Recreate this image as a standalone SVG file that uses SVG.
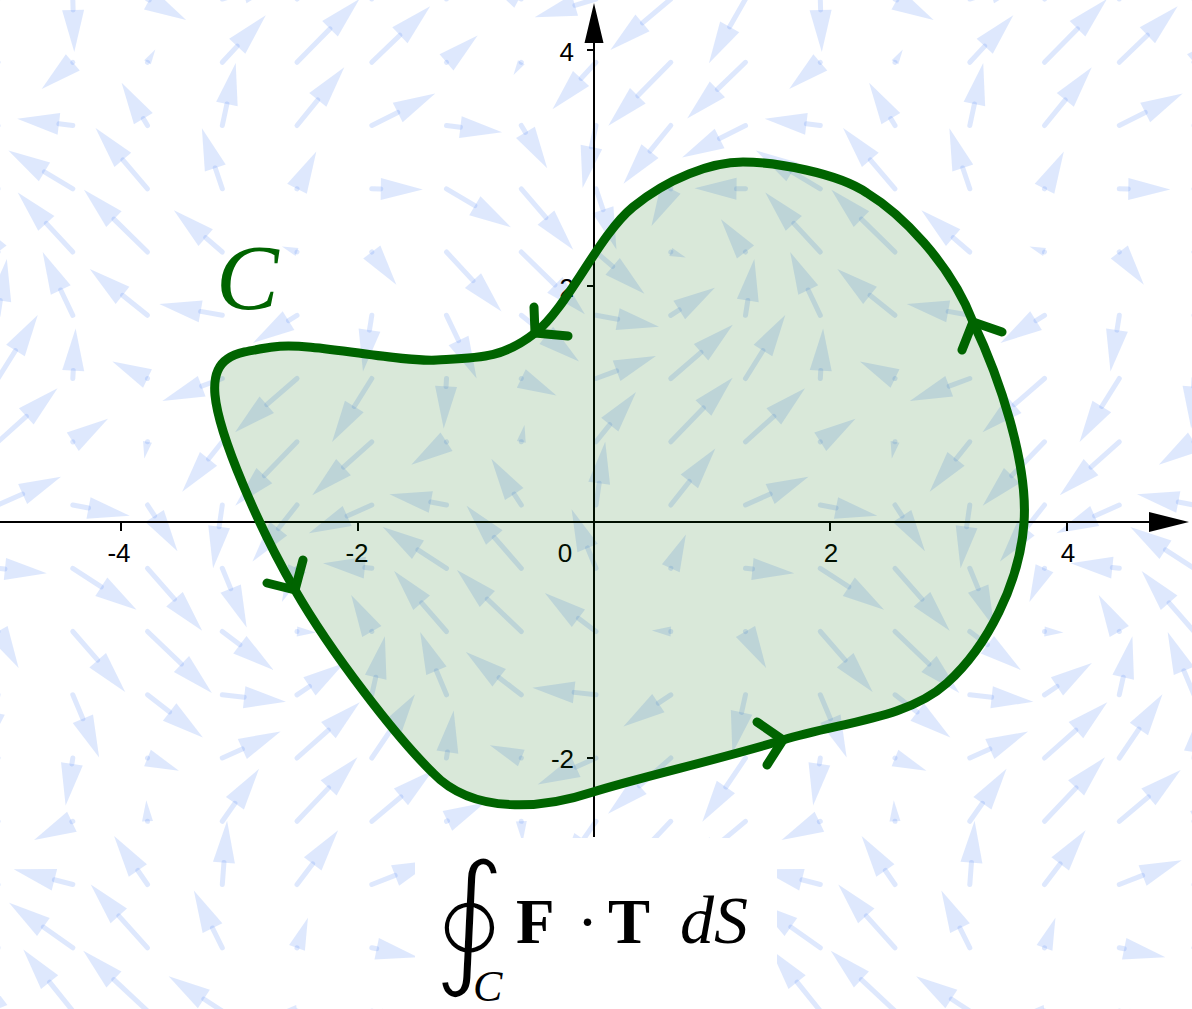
<svg xmlns="http://www.w3.org/2000/svg" width="1192" height="1009" viewBox="0 0 1192 1009">
<style>
.s{fill:none;stroke:rgb(70,130,245);stroke-opacity:.18;stroke-width:5;stroke-linecap:round}
.h{fill:rgb(70,130,245);fill-opacity:.18;stroke:none}
.ax{stroke:#000;stroke-width:2;fill:none}
.lb{font-family:"Liberation Sans",Arial,sans-serif;font-size:26px;fill:#000}
.cv{fill:none;stroke:#006400;stroke-width:9;stroke-linecap:round;stroke-linejoin:round}
.rg{fill:#006400;fill-opacity:.15;stroke:none}
</style>
<defs>
<g id="a15"><path class="s" d="M0 0h.01"/><path class="h" d="M15 0L0-3.9V3.9Z"/></g>
<g id="a16"><path class="s" d="M0 0h.01"/><path class="h" d="M16 0L0-4.2V4.2Z"/></g>
<g id="a17"><path class="s" d="M0 0h.01"/><path class="h" d="M17 0L0-4.5V4.5Z"/></g>
<g id="a19"><path class="s" d="M0 0h.01"/><path class="h" d="M19 0L0-5V5Z"/></g>
<g id="a21"><path class="s" d="M0 0h.01"/><path class="h" d="M21 0L0-5.5V5.5Z"/></g>
<g id="a23"><path class="s" d="M0 0h.01"/><path class="h" d="M23 0L0-6V6Z"/></g>
<g id="a32"><path class="s" d="M0 0h.01"/><path class="h" d="M32 0L0-8.4V8.4Z"/></g>
<g id="a34"><path class="s" d="M0 0h.01"/><path class="h" d="M34 0L0-8.9V8.9Z"/></g>
<g id="a37"><path class="s" d="M0 0h.01"/><path class="h" d="M37 0L0-9.7V9.7Z"/></g>
<g id="a39"><path class="s" d="M0 0h.01"/><path class="h" d="M39 0L0-10.2V10.2Z"/></g>
<g id="a41"><path class="s" d="M0 0h.01"/><path class="h" d="M41 0L0-10.7V10.7Z"/></g>
<g id="a42"><path class="s" d="M0 0h.01"/><path class="h" d="M42 0L0-11V11Z"/></g>
<g id="a43"><path class="s" d="M0 0H1"/><path class="h" d="M43 0L1-11V11Z"/></g>
<g id="a44"><path class="s" d="M0 0H2"/><path class="h" d="M44 0L2-11V11Z"/></g>
<g id="a47"><path class="s" d="M0 0H5"/><path class="h" d="M47 0L5-11V11Z"/></g>
<g id="a48"><path class="s" d="M0 0H6"/><path class="h" d="M48 0L6-11V11Z"/></g>
<g id="a49"><path class="s" d="M0 0H7"/><path class="h" d="M49 0L7-11V11Z"/></g>
<g id="a50"><path class="s" d="M0 0H8"/><path class="h" d="M50 0L8-11V11Z"/></g>
<g id="a51"><path class="s" d="M0 0H9"/><path class="h" d="M51 0L9-11V11Z"/></g>
<g id="a52"><path class="s" d="M0 0H10"/><path class="h" d="M52 0L10-11V11Z"/></g>
<g id="a53"><path class="s" d="M0 0H11"/><path class="h" d="M53 0L11-11V11Z"/></g>
<g id="a55"><path class="s" d="M0 0H13"/><path class="h" d="M55 0L13-11V11Z"/></g>
<g id="a56"><path class="s" d="M0 0H14"/><path class="h" d="M56 0L14-11V11Z"/></g>
<g id="a57"><path class="s" d="M0 0H15"/><path class="h" d="M57 0L15-11V11Z"/></g>
<g id="a58"><path class="s" d="M0 0H16"/><path class="h" d="M58 0L16-11V11Z"/></g>
<g id="a59"><path class="s" d="M0 0H17"/><path class="h" d="M59 0L17-11V11Z"/></g>
<g id="a60"><path class="s" d="M0 0H18"/><path class="h" d="M60 0L18-11V11Z"/></g>
<g id="a61"><path class="s" d="M0 0H19"/><path class="h" d="M61 0L19-11V11Z"/></g>
<g id="a64"><path class="s" d="M0 0H22"/><path class="h" d="M64 0L22-11V11Z"/></g>
<g id="a67"><path class="s" d="M0 0H25"/><path class="h" d="M67 0L25-11V11Z"/></g>
<g id="a68"><path class="s" d="M0 0H26"/><path class="h" d="M68 0L26-11V11Z"/></g>
<g id="a69"><path class="s" d="M0 0H27"/><path class="h" d="M69 0L27-11V11Z"/></g>
<g id="a70"><path class="s" d="M0 0H28"/><path class="h" d="M70 0L28-11V11Z"/></g>
<g id="a71"><path class="s" d="M0 0H29"/><path class="h" d="M71 0L29-11V11Z"/></g>
<g id="a72"><path class="s" d="M0 0H30"/><path class="h" d="M72 0L30-11V11Z"/></g>
<g id="a74"><path class="s" d="M0 0H32"/><path class="h" d="M74 0L32-11V11Z"/></g>
<g id="a75"><path class="s" d="M0 0H33"/><path class="h" d="M75 0L33-11V11Z"/></g>
<g id="a76"><path class="s" d="M0 0H34"/><path class="h" d="M76 0L34-11V11Z"/></g>
<g id="a77"><path class="s" d="M0 0H35"/><path class="h" d="M77 0L35-11V11Z"/></g>
<g id="a78"><path class="s" d="M0 0H36"/><path class="h" d="M78 0L36-11V11Z"/></g>
<g id="a79"><path class="s" d="M0 0H37"/><path class="h" d="M79 0L37-11V11Z"/></g>
<g id="a80"><path class="s" d="M0 0H38"/><path class="h" d="M80 0L38-11V11Z"/></g>
<g id="a81"><path class="s" d="M0 0H39"/><path class="h" d="M81 0L39-11V11Z"/></g>
<g id="a82"><path class="s" d="M0 0H40"/><path class="h" d="M82 0L40-11V11Z"/></g>
<g id="a83"><path class="s" d="M0 0H41"/><path class="h" d="M83 0L41-11V11Z"/></g>
<g id="a84"><path class="s" d="M0 0H42"/><path class="h" d="M84 0L42-11V11Z"/></g>
<g id="a85"><path class="s" d="M0 0H43"/><path class="h" d="M85 0L43-11V11Z"/></g>
<g id="a88"><path class="s" d="M0 0H46"/><path class="h" d="M88 0L46-11V11Z"/></g>
<g id="a89"><path class="s" d="M0 0H47"/><path class="h" d="M89 0L47-11V11Z"/></g>
</defs>
<rect width="1192" height="1009" fill="#fff"/>
<g id="field">
<g transform="translate(0 -1)">
<use href="#a74" transform="translate(-2)rotate(119.6)"/><use href="#a53" transform="translate(72.8)rotate(88.4)"/><use href="#a44" transform="translate(147.5)rotate(28.6)"/><use href="#a64" transform="translate(222.3)rotate(-16.6)"/><use href="#a79" transform="translate(297)rotate(-40.1)"/><use href="#a74" transform="translate(371.8)rotate(-60.4)"/><use href="#a53" transform="translate(446.5)rotate(-91.6)"/><use href="#a44" transform="translate(521.3)rotate(-151.4)"/><use href="#a64" transform="translate(596)rotate(163.4)"/><use href="#a79" transform="translate(670.8)rotate(139.9)"/><use href="#a74" transform="translate(745.5)rotate(119.6)"/><use href="#a53" transform="translate(820.3)rotate(88.4)"/><use href="#a44" transform="translate(895)rotate(28.6)"/><use href="#a64" transform="translate(969.8)rotate(-16.6)"/><use href="#a79" transform="translate(1044.5)rotate(-40.1)"/><use href="#a74" transform="translate(1119.3)rotate(-60.4)"/><use href="#a53" transform="translate(1194)rotate(-91.6)"/>
</g>
<g transform="translate(0 62.3)">
<use href="#a81" transform="translate(-2)rotate(136.1)"/><use href="#a41" transform="translate(72.8)rotate(139.4)"/><use href="#a15" transform="translate(147.5)rotate(-58.7)"/><use href="#a64" transform="translate(222.3)rotate(-47.2)"/><use href="#a89" transform="translate(297)rotate(-45.4)"/><use href="#a81" transform="translate(371.8)rotate(-43.9)"/><use href="#a41" transform="translate(446.5)rotate(-40.6)"/><use href="#a15" transform="translate(521.3)rotate(121.3)"/><use href="#a64" transform="translate(596)rotate(132.8)"/><use href="#a89" transform="translate(670.8)rotate(134.6)"/><use href="#a81" transform="translate(745.5)rotate(136.1)"/><use href="#a41" transform="translate(820.3)rotate(139.4)"/><use href="#a15" transform="translate(895)rotate(-58.7)"/><use href="#a64" transform="translate(969.8)rotate(-47.2)"/><use href="#a89" transform="translate(1044.5)rotate(-45.4)"/><use href="#a81" transform="translate(1119.3)rotate(-43.9)"/><use href="#a41" transform="translate(1194)rotate(-40.6)"/>
</g>
<g transform="translate(0 125.5)">
<use href="#a71" transform="translate(-2)rotate(153.3)"/><use href="#a56" transform="translate(72.8)rotate(-173.2)"/><use href="#a50" transform="translate(147.5)rotate(-121.2)"/><use href="#a64" transform="translate(222.3)rotate(-77.9)"/><use href="#a75" transform="translate(297)rotate(-50.9)"/><use href="#a71" transform="translate(371.8)rotate(-26.7)"/><use href="#a56" transform="translate(446.5)rotate(6.8)"/><use href="#a50" transform="translate(521.3)rotate(58.8)"/><use href="#a64" transform="translate(596)rotate(102.1)"/><use href="#a75" transform="translate(670.8)rotate(129.1)"/><use href="#a71" transform="translate(745.5)rotate(153.3)"/><use href="#a56" transform="translate(820.3)rotate(-173.2)"/><use href="#a50" transform="translate(895)rotate(-121.2)"/><use href="#a64" transform="translate(969.8)rotate(-77.9)"/><use href="#a75" transform="translate(1044.5)rotate(-50.9)"/><use href="#a71" transform="translate(1119.3)rotate(-26.7)"/><use href="#a56" transform="translate(1194)rotate(6.8)"/>
</g>
<g transform="translate(0 188.8)">
<use href="#a51" transform="translate(-2)rotate(-179.3)"/><use href="#a75" transform="translate(72.8)rotate(-149.2)"/><use href="#a80" transform="translate(147.5)rotate(-130.5)"/><use href="#a64" transform="translate(222.3)rotate(-108.6)"/><use href="#a42" transform="translate(297)rotate(-62.6)"/><use href="#a51" transform="translate(371.8)rotate(0.7)"/><use href="#a75" transform="translate(446.5)rotate(30.8)"/><use href="#a80" transform="translate(521.3)rotate(49.5)"/><use href="#a64" transform="translate(596)rotate(71.4)"/><use href="#a42" transform="translate(670.8)rotate(117.4)"/><use href="#a51" transform="translate(745.5)rotate(-179.3)"/><use href="#a75" transform="translate(820.3)rotate(-149.2)"/><use href="#a80" transform="translate(895)rotate(-130.5)"/><use href="#a64" transform="translate(969.8)rotate(-108.6)"/><use href="#a42" transform="translate(1044.5)rotate(-62.6)"/><use href="#a51" transform="translate(1119.3)rotate(0.7)"/><use href="#a75" transform="translate(1194)rotate(30.8)"/>
</g>
<g transform="translate(0 252)">
<use href="#a41" transform="translate(-2)rotate(-126.8)"/><use href="#a81" transform="translate(72.8)rotate(-132.8)"/><use href="#a89" transform="translate(147.5)rotate(-135.6)"/><use href="#a64" transform="translate(222.3)rotate(-139.2)"/><use href="#a16" transform="translate(297)rotate(-159.7)"/><use href="#a41" transform="translate(371.8)rotate(53.2)"/><use href="#a81" transform="translate(446.5)rotate(47.2)"/><use href="#a89" transform="translate(521.3)rotate(44.4)"/><use href="#a64" transform="translate(596)rotate(40.8)"/><use href="#a16" transform="translate(670.8)rotate(20.3)"/><use href="#a41" transform="translate(745.5)rotate(-126.8)"/><use href="#a81" transform="translate(820.3)rotate(-132.8)"/><use href="#a89" transform="translate(895)rotate(-135.6)"/><use href="#a64" transform="translate(969.8)rotate(-139.2)"/><use href="#a16" transform="translate(1044.5)rotate(-159.7)"/><use href="#a41" transform="translate(1119.3)rotate(53.2)"/><use href="#a81" transform="translate(1194)rotate(47.2)"/>
</g>
<g transform="translate(0 315.3)">
<use href="#a57" transform="translate(-2)rotate(-81.1)"/><use href="#a70" transform="translate(72.8)rotate(-115.5)"/><use href="#a74" transform="translate(147.5)rotate(-141.3)"/><use href="#a64" transform="translate(222.3)rotate(-169.8)"/><use href="#a52" transform="translate(297)rotate(147.9)"/><use href="#a57" transform="translate(371.8)rotate(98.9)"/><use href="#a70" transform="translate(446.5)rotate(64.5)"/><use href="#a74" transform="translate(521.3)rotate(38.7)"/><use href="#a64" transform="translate(596)rotate(10.2)"/><use href="#a52" transform="translate(670.8)rotate(-32.1)"/><use href="#a57" transform="translate(745.5)rotate(-81.1)"/><use href="#a70" transform="translate(820.3)rotate(-115.5)"/><use href="#a74" transform="translate(895)rotate(-141.3)"/><use href="#a64" transform="translate(969.8)rotate(-169.8)"/><use href="#a52" transform="translate(1044.5)rotate(147.9)"/><use href="#a57" transform="translate(1119.3)rotate(98.9)"/><use href="#a70" transform="translate(1194)rotate(64.5)"/>
</g>
<g transform="translate(0 378.5)">
<use href="#a75" transform="translate(-2)rotate(-58)"/><use href="#a50" transform="translate(72.8)rotate(-86.8)"/><use href="#a39" transform="translate(147.5)rotate(-154.2)"/><use href="#a64" transform="translate(222.3)rotate(159.5)"/><use href="#a82" transform="translate(297)rotate(139.1)"/><use href="#a75" transform="translate(371.8)rotate(122)"/><use href="#a50" transform="translate(446.5)rotate(93.2)"/><use href="#a39" transform="translate(521.3)rotate(25.8)"/><use href="#a64" transform="translate(596)rotate(-20.5)"/><use href="#a82" transform="translate(670.8)rotate(-40.9)"/><use href="#a75" transform="translate(745.5)rotate(-58)"/><use href="#a50" transform="translate(820.3)rotate(-86.8)"/><use href="#a39" transform="translate(895)rotate(-154.2)"/><use href="#a64" transform="translate(969.8)rotate(159.5)"/><use href="#a82" transform="translate(1044.5)rotate(139.1)"/><use href="#a75" transform="translate(1119.3)rotate(122)"/><use href="#a50" transform="translate(1194)rotate(93.2)"/>
</g>
<g transform="translate(0 441.8)">
<use href="#a80" transform="translate(-2)rotate(-41.9)"/><use href="#a42" transform="translate(72.8)rotate(-33.1)"/><use href="#a17" transform="translate(147.5)rotate(100.8)"/><use href="#a64" transform="translate(222.3)rotate(128.8)"/><use href="#a89" transform="translate(297)rotate(134)"/><use href="#a80" transform="translate(371.8)rotate(138.1)"/><use href="#a42" transform="translate(446.5)rotate(146.9)"/><use href="#a17" transform="translate(521.3)rotate(-79.2)"/><use href="#a64" transform="translate(596)rotate(-51.2)"/><use href="#a89" transform="translate(670.8)rotate(-46)"/><use href="#a80" transform="translate(745.5)rotate(-41.9)"/><use href="#a42" transform="translate(820.3)rotate(-33.1)"/><use href="#a17" transform="translate(895)rotate(100.8)"/><use href="#a64" transform="translate(969.8)rotate(128.8)"/><use href="#a89" transform="translate(1044.5)rotate(134)"/><use href="#a80" transform="translate(1119.3)rotate(138.1)"/><use href="#a42" transform="translate(1194)rotate(146.9)"/>
</g>
<g transform="translate(0 505)">
<use href="#a69" transform="translate(-2)rotate(-24.1)"/><use href="#a58" transform="translate(72.8)rotate(10.8)"/><use href="#a55" transform="translate(147.5)rotate(57)"/><use href="#a64" transform="translate(222.3)rotate(98.3)"/><use href="#a72" transform="translate(297)rotate(128.2)"/><use href="#a69" transform="translate(371.8)rotate(155.9)"/><use href="#a58" transform="translate(446.5)rotate(-169.2)"/><use href="#a55" transform="translate(521.3)rotate(-123)"/><use href="#a64" transform="translate(596)rotate(-81.7)"/><use href="#a72" transform="translate(670.8)rotate(-51.8)"/><use href="#a69" transform="translate(745.5)rotate(-24.1)"/><use href="#a58" transform="translate(820.3)rotate(10.8)"/><use href="#a55" transform="translate(895)rotate(57)"/><use href="#a64" transform="translate(969.8)rotate(98.3)"/><use href="#a72" transform="translate(1044.5)rotate(128.2)"/><use href="#a69" transform="translate(1119.3)rotate(155.9)"/><use href="#a58" transform="translate(1194)rotate(-169.2)"/>
</g>
<g transform="translate(0 568.3)">
<use href="#a49" transform="translate(-2)rotate(5.9)"/><use href="#a76" transform="translate(72.8)rotate(33)"/><use href="#a83" transform="translate(147.5)rotate(48.8)"/><use href="#a64" transform="translate(222.3)rotate(67.6)"/><use href="#a37" transform="translate(297)rotate(114.1)"/><use href="#a49" transform="translate(371.8)rotate(-174.1)"/><use href="#a76" transform="translate(446.5)rotate(-147)"/><use href="#a83" transform="translate(521.3)rotate(-131.2)"/><use href="#a64" transform="translate(596)rotate(-112.4)"/><use href="#a37" transform="translate(670.8)rotate(-65.9)"/><use href="#a49" transform="translate(745.5)rotate(5.9)"/><use href="#a76" transform="translate(820.3)rotate(33)"/><use href="#a83" transform="translate(895)rotate(48.8)"/><use href="#a64" transform="translate(969.8)rotate(67.6)"/><use href="#a37" transform="translate(1044.5)rotate(114.1)"/><use href="#a49" transform="translate(1119.3)rotate(-174.1)"/><use href="#a76" transform="translate(1194)rotate(-147)"/>
</g>
<g transform="translate(0 631.5)">
<use href="#a42" transform="translate(-2)rotate(60.6)"/><use href="#a80" transform="translate(72.8)rotate(49.1)"/><use href="#a89" transform="translate(147.5)rotate(43.7)"/><use href="#a64" transform="translate(222.3)rotate(36.9)"/><use href="#a19" transform="translate(297)rotate(3)"/><use href="#a42" transform="translate(371.8)rotate(-119.4)"/><use href="#a80" transform="translate(446.5)rotate(-130.9)"/><use href="#a89" transform="translate(521.3)rotate(-136.3)"/><use href="#a64" transform="translate(596)rotate(-143.1)"/><use href="#a19" transform="translate(670.8)rotate(-177)"/><use href="#a42" transform="translate(745.5)rotate(60.6)"/><use href="#a80" transform="translate(820.3)rotate(49.1)"/><use href="#a89" transform="translate(895)rotate(43.7)"/><use href="#a64" transform="translate(969.8)rotate(36.9)"/><use href="#a19" transform="translate(1044.5)rotate(3)"/><use href="#a42" transform="translate(1119.3)rotate(-119.4)"/><use href="#a80" transform="translate(1194)rotate(-130.9)"/>
</g>
<g transform="translate(0 694.8)">
<use href="#a60" transform="translate(-2)rotate(102.6)"/><use href="#a68" transform="translate(72.8)rotate(67.2)"/><use href="#a70" transform="translate(147.5)rotate(37.7)"/><use href="#a64" transform="translate(222.3)rotate(6.3)"/><use href="#a57" transform="translate(297)rotate(-33.8)"/><use href="#a60" transform="translate(371.8)rotate(-77.4)"/><use href="#a68" transform="translate(446.5)rotate(-112.8)"/><use href="#a70" transform="translate(521.3)rotate(-142.3)"/><use href="#a64" transform="translate(596)rotate(-173.7)"/><use href="#a57" transform="translate(670.8)rotate(146.2)"/><use href="#a60" transform="translate(745.5)rotate(102.6)"/><use href="#a68" transform="translate(820.3)rotate(67.2)"/><use href="#a70" transform="translate(895)rotate(37.7)"/><use href="#a64" transform="translate(969.8)rotate(6.3)"/><use href="#a57" transform="translate(1044.5)rotate(-33.8)"/><use href="#a60" transform="translate(1119.3)rotate(-77.4)"/><use href="#a68" transform="translate(1194)rotate(-112.8)"/>
</g>
<g transform="translate(0 758)">
<use href="#a77" transform="translate(-2)rotate(124.1)"/><use href="#a48" transform="translate(72.8)rotate(98.6)"/><use href="#a34" transform="translate(147.5)rotate(22.2)"/><use href="#a64" transform="translate(222.3)rotate(-24.4)"/><use href="#a84" transform="translate(297)rotate(-41.6)"/><use href="#a77" transform="translate(371.8)rotate(-55.9)"/><use href="#a48" transform="translate(446.5)rotate(-81.4)"/><use href="#a34" transform="translate(521.3)rotate(-157.8)"/><use href="#a64" transform="translate(596)rotate(155.6)"/><use href="#a84" transform="translate(670.8)rotate(138.4)"/><use href="#a77" transform="translate(745.5)rotate(124.1)"/><use href="#a48" transform="translate(820.3)rotate(98.6)"/><use href="#a34" transform="translate(895)rotate(22.2)"/><use href="#a64" transform="translate(969.8)rotate(-24.4)"/><use href="#a84" transform="translate(1044.5)rotate(-41.6)"/><use href="#a77" transform="translate(1119.3)rotate(-55.9)"/><use href="#a48" transform="translate(1194)rotate(-81.4)"/>
</g>
<g transform="translate(0 821.3)">
<use href="#a80" transform="translate(-2)rotate(140.1)"/><use href="#a43" transform="translate(72.8)rotate(154.2)"/><use href="#a21" transform="translate(147.5)rotate(-93.3)"/><use href="#a64" transform="translate(222.3)rotate(-55)"/><use href="#a88" transform="translate(297)rotate(-46.6)"/><use href="#a80" transform="translate(371.8)rotate(-39.9)"/><use href="#a43" transform="translate(446.5)rotate(-25.8)"/><use href="#a21" transform="translate(521.3)rotate(86.7)"/><use href="#a64" transform="translate(596)rotate(125)"/><use href="#a88" transform="translate(670.8)rotate(133.4)"/><use href="#a80" transform="translate(745.5)rotate(140.1)"/><use href="#a43" transform="translate(820.3)rotate(154.2)"/><use href="#a21" transform="translate(895)rotate(-93.3)"/><use href="#a64" transform="translate(969.8)rotate(-55)"/><use href="#a88" transform="translate(1044.5)rotate(-46.6)"/><use href="#a80" transform="translate(1119.3)rotate(-39.9)"/><use href="#a43" transform="translate(1194)rotate(-25.8)"/>
</g>
<g transform="translate(0 884.5)">
<use href="#a67" transform="translate(-2)rotate(158.7)"/><use href="#a61" transform="translate(72.8)rotate(-165.6)"/><use href="#a59" transform="translate(147.5)rotate(-124.5)"/><use href="#a64" transform="translate(222.3)rotate(-85.7)"/><use href="#a68" transform="translate(297)rotate(-52.8)"/><use href="#a67" transform="translate(371.8)rotate(-21.3)"/><use href="#a61" transform="translate(446.5)rotate(14.4)"/><use href="#a59" transform="translate(521.3)rotate(55.5)"/><use href="#a64" transform="translate(596)rotate(94.3)"/><use href="#a68" transform="translate(670.8)rotate(127.2)"/><use href="#a67" transform="translate(745.5)rotate(158.7)"/><use href="#a61" transform="translate(820.3)rotate(-165.6)"/><use href="#a59" transform="translate(895)rotate(-124.5)"/><use href="#a64" transform="translate(969.8)rotate(-85.7)"/><use href="#a68" transform="translate(1044.5)rotate(-52.8)"/><use href="#a67" transform="translate(1119.3)rotate(-21.3)"/><use href="#a61" transform="translate(1194)rotate(14.4)"/>
</g>
<g transform="translate(0 947.8)">
<use href="#a47" transform="translate(-2)rotate(-168.5)"/><use href="#a78" transform="translate(72.8)rotate(-144.8)"/><use href="#a85" transform="translate(147.5)rotate(-131.9)"/><use href="#a64" transform="translate(222.3)rotate(-116.4)"/><use href="#a32" transform="translate(297)rotate(-70)"/><use href="#a47" transform="translate(371.8)rotate(11.5)"/><use href="#a78" transform="translate(446.5)rotate(35.2)"/><use href="#a85" transform="translate(521.3)rotate(48.1)"/><use href="#a64" transform="translate(596)rotate(63.6)"/><use href="#a32" transform="translate(670.8)rotate(110)"/><use href="#a47" transform="translate(745.5)rotate(-168.5)"/><use href="#a78" transform="translate(820.3)rotate(-144.8)"/><use href="#a85" transform="translate(895)rotate(-131.9)"/><use href="#a64" transform="translate(969.8)rotate(-116.4)"/><use href="#a32" transform="translate(1044.5)rotate(-70)"/><use href="#a47" transform="translate(1119.3)rotate(11.5)"/><use href="#a78" transform="translate(1194)rotate(35.2)"/>
</g>
<g transform="translate(0 1011)">
<use href="#a44" transform="translate(-2)rotate(-112.4)"/><use href="#a79" transform="translate(72.8)rotate(-128.8)"/><use href="#a88" transform="translate(147.5)rotate(-136.9)"/><use href="#a64" transform="translate(222.3)rotate(-147)"/><use href="#a23" transform="translate(297)rotate(171.8)"/><use href="#a44" transform="translate(371.8)rotate(67.6)"/><use href="#a79" transform="translate(446.5)rotate(51.2)"/><use href="#a88" transform="translate(521.3)rotate(43.1)"/><use href="#a64" transform="translate(596)rotate(33)"/><use href="#a23" transform="translate(670.8)rotate(-8.2)"/><use href="#a44" transform="translate(745.5)rotate(-112.4)"/><use href="#a79" transform="translate(820.3)rotate(-128.8)"/><use href="#a88" transform="translate(895)rotate(-136.9)"/><use href="#a64" transform="translate(969.8)rotate(-147)"/><use href="#a23" transform="translate(1044.5)rotate(171.8)"/><use href="#a44" transform="translate(1119.3)rotate(67.6)"/><use href="#a79" transform="translate(1194)rotate(51.2)"/>
</g>
</g>
<g id="axes">
<path class="ax" d="M0 522H1152M594 837V40"/>
<path d="M1149 512L1189 522L1149 532Z M584.5 43L594 3L603.5 43Z" fill="#000"/>
<path class="ax" d="M121 522V531M358 522V531M830 522V531M1067 522V531M587 50H594M587 286H594M587 758H594"/>
<text class="lb" x="119" y="562" text-anchor="middle">-4</text>
<text class="lb" x="357" y="562" text-anchor="middle">-2</text>
<text class="lb" x="565" y="562" text-anchor="middle">0</text>
<text class="lb" x="831" y="562" text-anchor="middle">2</text>
<text class="lb" x="1068" y="562" text-anchor="middle">4</text>
<text class="lb" x="574" y="61" text-anchor="end">4</text>
<text class="lb" x="574" y="297" text-anchor="end">2</text>
<text class="lb" x="574" y="768" text-anchor="end">-2</text>
</g>
<g id="curve">
<path class="rg" d="M535 333C502.3 358.5 480.7 357.7 437 360C393.3 362.3 310 341.2 273 347C236 352.8 211.3 354.5 215 395C218.7 435.5 258.7 527 295 590C331.3 653 396 736.8 433 773C474 816 545 808 593 792C637 778 724 758.2 783 740C842 721.8 906.8 719.2 947 683C987.2 646.8 1019.7 583.2 1024 523C1028.3 462.8 999.2 377 973 322C950 262 900 213 867 193C838 173 775 162 743 162C711 162 667.7 178.5 633 207C598.3 235.5 567.7 307.5 535 333Z"/>
<path class="cv" d="M535 333C502.3 358.5 480.7 357.7 437 360C393.3 362.3 310 341.2 273 347C236 352.8 211.3 354.5 215 395C218.7 435.5 258.7 527 295 590C331.3 653 396 736.8 433 773C474 816 545 808 593 792C637 778 724 758.2 783 740C842 721.8 906.8 719.2 947 683C987.2 646.8 1019.7 583.2 1024 523C1028.3 462.8 999.2 377 973 322C950 262 900 213 867 193C838 173 775 162 743 162C711 162 667.7 178.5 633 207C598.3 235.5 567.7 307.5 535 333Z"/>
<path class="cv" d="M534 307L535 333L568 336M303 560L295 590L267 583M757 722L783 740L767 765M1002 332L973 322L962 350"/>
<text x="216" y="309" font-family="'Liberation Serif','Times New Roman',serif" font-style="italic" font-size="94" fill="#006400">C</text>
</g>
<g id="formula">
<rect x="415" y="838" width="362" height="171" fill="#fff"/>
<text x="431" y="968" font-family="'DejaVu Serif','DejaVu Sans',serif" font-size="148" fill="#000" stroke="#fff" stroke-width="5">∮</text>
<text x="473" y="1001" font-family="'Liberation Serif','Times New Roman',serif" font-style="italic" font-size="44" fill="#000">C</text>
<text y="943" font-family="'Liberation Serif','Times New Roman',serif" font-size="63" fill="#000"><tspan x="516" font-weight="bold">F</tspan><tspan x="577">·</tspan><tspan x="608" font-weight="bold">T</tspan><tspan x="680" font-style="italic" font-size="68">dS</tspan></text>
</g>
</svg>
